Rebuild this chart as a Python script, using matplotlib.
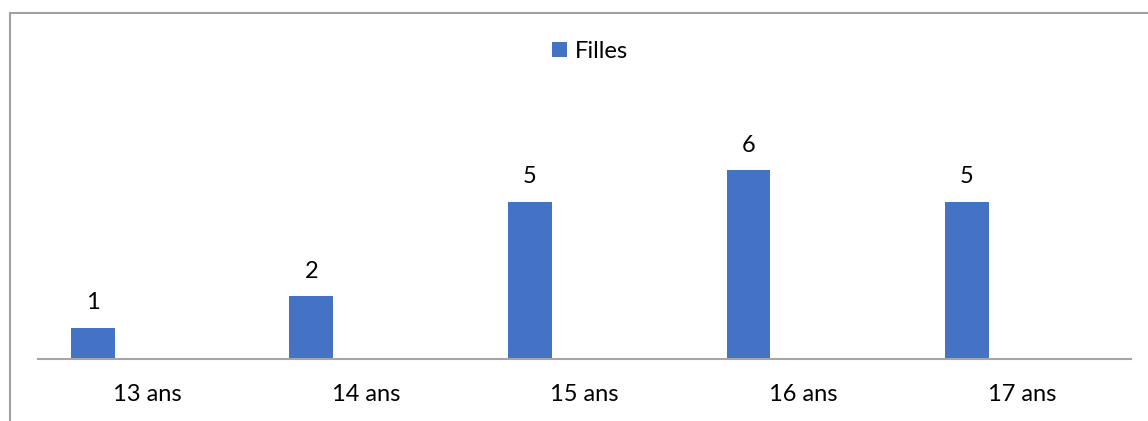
import numpy as np
import matplotlib.pyplot as plt
from matplotlib.lines import Line2D

# ***********************data********************
ages = ["13 ans", "14 ans", "15 ans", "16 ans", "17 ans"]
filles = [1, 2, 5, 6, 5]

W, H = 1148, 421
plt.rcParams['font.family'] = ['Lato', 'DejaVu Sans']
fig = plt.figure(figsize=(W / 100, H / 100), dpi=100)

# plot area, in pixel terms of the original picture
ax = fig.add_axes([38 / W, 62 / H, (1131 - 38) / W, 252 / H])
x = np.arange(len(ages))
bars = ax.bar(x - 0.25, filles, width=0.2, color="#4472C4", label="Filles")

for b, v in zip(bars, filles):
    ax.annotate(str(v), (b.get_x() + b.get_width() / 2, v), xytext=(0, 13),
                textcoords="offset points", ha="center", va="baseline",
                fontsize=17, color="#000000")

ax.set_xlim(-0.5, len(ages) - 0.5)
ax.set_ylim(0, 8)
ax.set_yticks([])
ax.set_xticks(x)
ax.set_xticklabels(ages, fontsize=17)
for t in ax.get_xticklabels():
    t.set_va("baseline")
ax.tick_params(axis="x", length=0, pad=30)
for s in ["top", "right", "left"]:
    ax.spines[s].set_visible(False)
ax.spines["bottom"].set_color("#A6A6A6")
ax.spines["bottom"].set_linewidth(1.5)

fig.legend(handles=[bars], labels=["Filles"], loc="center",
           bbox_to_anchor=(590 / W, 1 - 51.5 / H), frameon=False, fontsize=17,
           handlelength=0.62, handleheight=0.62, handletextpad=0.33)

# chart frame (top and left edges only are visible)
fig.add_artist(Line2D([9.5 / W, 1], [1 - 12.5 / H] * 2, color="#A0A0A0", lw=1.5))
fig.add_artist(Line2D([9.5 / W] * 2, [0, 1 - 12.5 / H], color="#A0A0A0", lw=1.5))

fig.savefig("out.png", dpi=100)
